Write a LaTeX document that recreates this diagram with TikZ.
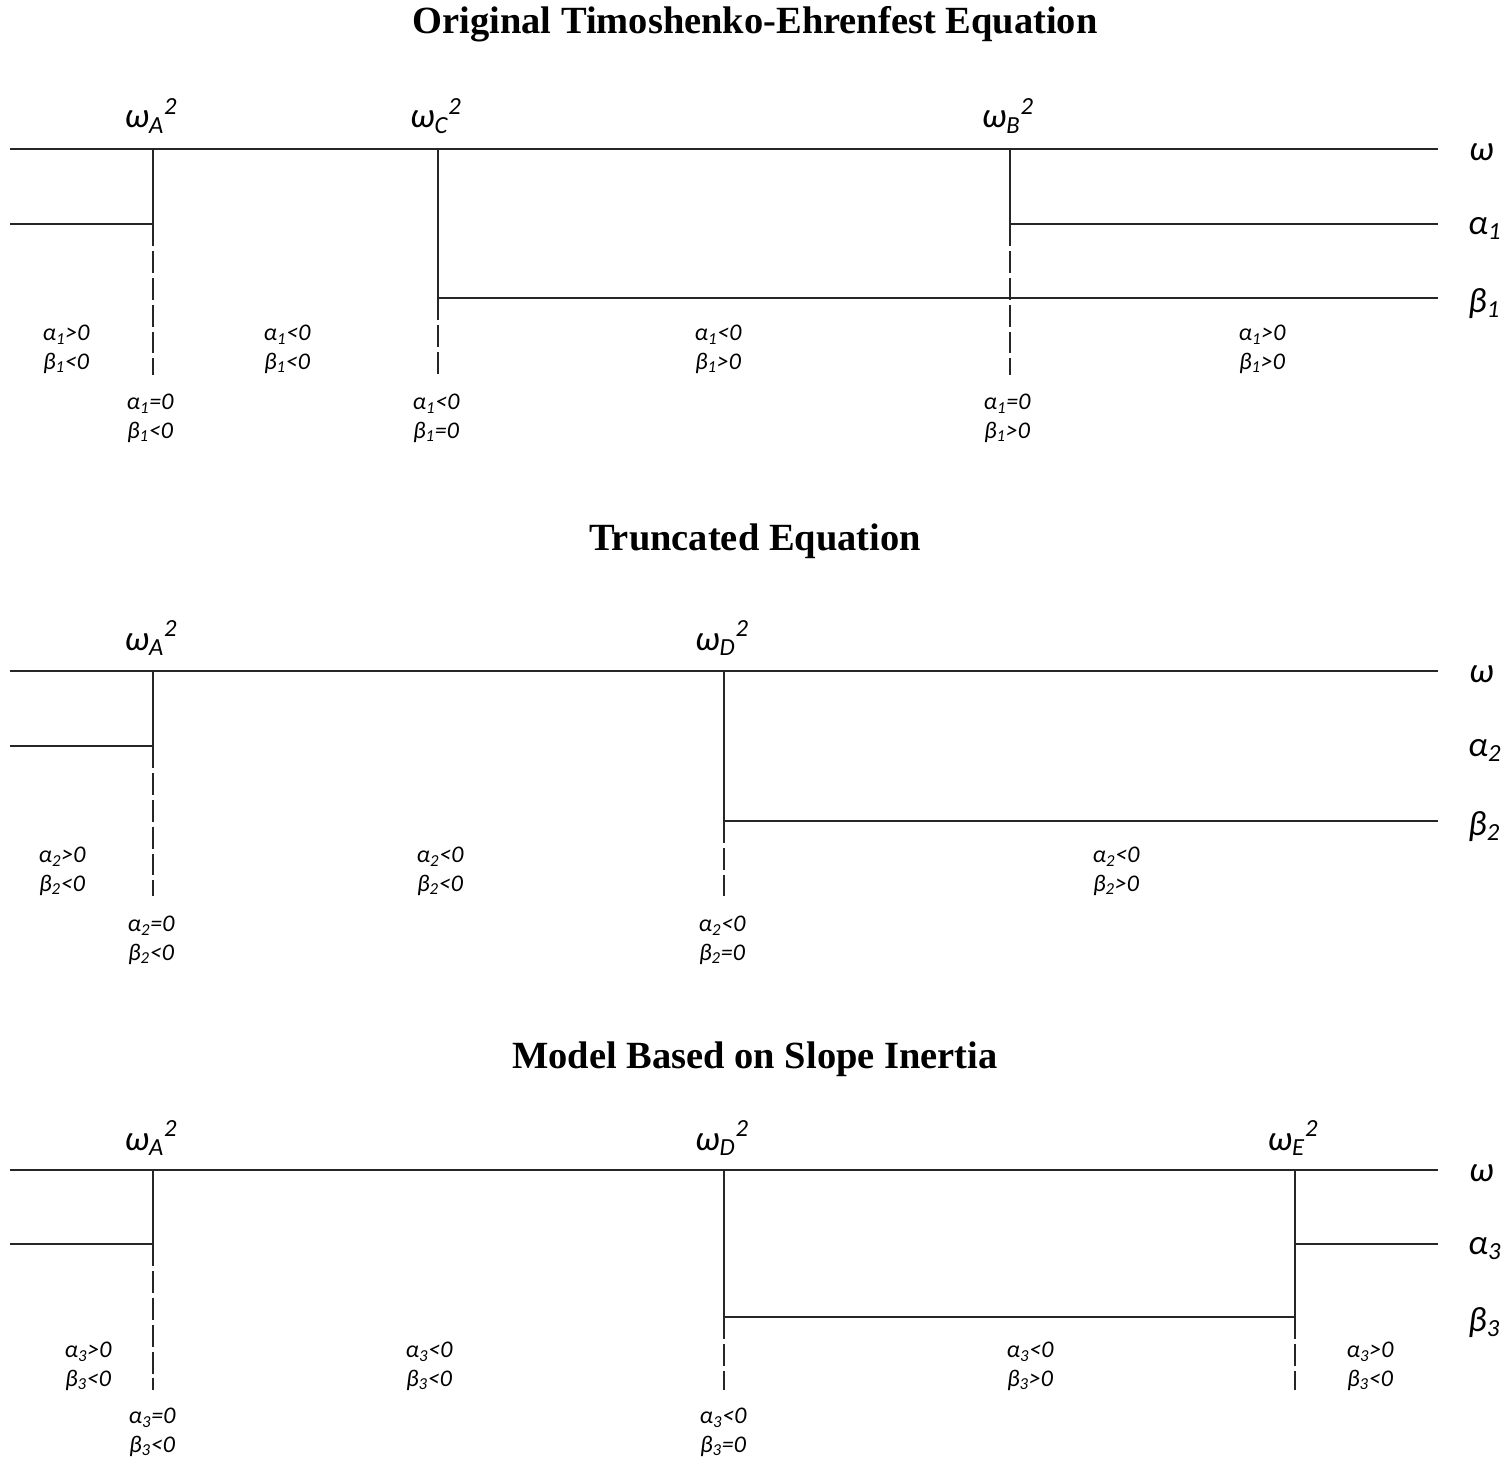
\documentclass[tikz,border=0pt]{standalone}
\usepackage{fontspec}
\setmainfont{Liberation Serif}
\newfontfamily\calfont{Carlito}
\usetikzlibrary{positioning}

\begin{document}
\begin{tikzpicture}[x=0.02cm, y=-0.02cm,
    line/.style={line width=1.1pt, black!85},
    dashline/.style={line, dash pattern=on 12.5pt off 2.8pt},
    heading/.style={anchor=base, font=\bfseries\fontsize{21.9}{26}\selectfont},
    axislbl/.style={anchor=base west, font=\calfont\itshape\fontsize{20}{24}\selectfont},
    freqlbl/.style={anchor=base, font=\calfont\itshape\fontsize{20}{24}\selectfont},
    signlbl/.style={align=center, font=\calfont\itshape\fontsize{13.6}{16.4}\selectfont}]

        \useasboundingbox (0,0) rectangle (1511,1470);

        % --- original equation
        \node[heading] (title1) at (755,34) {Original Timoshenko-Ehrenfest Equation};

        \draw[line] (10,149) -- (1438,149);
        \draw[line] (10,224) -- (153,224);
        \draw[line] (1010,224) -- (1438,224);
        \draw[line] (438,298) -- (1438,298);
        \draw[line] (153,149) -- (153,224);
        \draw[line] (438,149) -- (438,298);
        \draw[line] (1010,149) -- (1010,224);
        \draw[dashline] (153,224) -- (153,375);
        \draw[dashline] (438,298) -- (438,375);
        \draw[dashline] (1010,224) -- (1010,375);

        \node[axislbl] (w1) at (1463,160) {ω};
        \node[axislbl] (a1) at (1462,234) {α\textsubscript{1}};
        \node[axislbl] (b1) at (1462,312) {β\textsubscript{1}};

        \node[freqlbl] (wA1) at (151,128) {ω\textsubscript{A}\textsuperscript{2}};
        \node[freqlbl] (wC1) at (436,128) {ω\textsubscript{C}\textsuperscript{2}};
        \node[freqlbl] (wB1) at (1008,128) {ω\textsubscript{B}\textsuperscript{2}};

        \node[signlbl] (r11) at (66,349) {α\textsubscript{1}>0\\β\textsubscript{1}<0};
        \node[signlbl] (r12) at (287,349) {α\textsubscript{1}<0\\β\textsubscript{1}<0};
        \node[signlbl] (r13) at (718,349) {α\textsubscript{1}<0\\β\textsubscript{1}>0};
        \node[signlbl] (r14) at (1262,349) {α\textsubscript{1}>0\\β\textsubscript{1}>0};
        \node[signlbl] (p11) at (150,418) {α\textsubscript{1}=0\\β\textsubscript{1}<0};
        \node[signlbl] (p12) at (436,418) {α\textsubscript{1}<0\\β\textsubscript{1}=0};
        \node[signlbl] (p13) at (1007,418) {α\textsubscript{1}=0\\β\textsubscript{1}>0};

        % --- truncated
        \node[heading] (title2) at (755,550) {Truncated Equation};

        \draw[line] (10,671) -- (1438,671);
        \draw[line] (10,746) -- (153,746);
        \draw[line] (724,821) -- (1438,821);
        \draw[line] (153,671) -- (153,746);
        \draw[line] (724,671) -- (724,821);
        \draw[dashline] (153,746) -- (153,896);
        \draw[dashline] (724,821) -- (724,896);

        \node[axislbl] (w2) at (1463,682) {ω};
        \node[axislbl] (a2) at (1462,756) {α\textsubscript{2}};
        \node[axislbl] (b2) at (1462,835) {β\textsubscript{2}};

        \node[freqlbl] (wA2) at (151,650) {ω\textsubscript{A}\textsuperscript{2}};
        \node[freqlbl] (wD2) at (722,650) {ω\textsubscript{D}\textsuperscript{2}};

        \node[signlbl] (r21) at (62,871) {α\textsubscript{2}>0\\β\textsubscript{2}<0};
        \node[signlbl] (r22) at (440,871) {α\textsubscript{2}<0\\β\textsubscript{2}<0};
        \node[signlbl] (r23) at (1116,871) {α\textsubscript{2}<0\\β\textsubscript{2}>0};
        \node[signlbl] (p21) at (151,940) {α\textsubscript{2}=0\\β\textsubscript{2}<0};
        \node[signlbl] (p22) at (722,940) {α\textsubscript{2}<0\\β\textsubscript{2}=0};

        % --- slope inertia
        \node[heading] (title3) at (755,1068) {Model Based on Slope Inertia};

        \draw[line] (10,1170) -- (1438,1170);
        \draw[line] (10,1244) -- (153,1244);
        \draw[line] (1295,1244) -- (1438,1244);
        \draw[line] (724,1317) -- (1295,1317);
        \draw[line] (153,1170) -- (153,1244);
        \draw[line] (724,1170) -- (724,1317);
        \draw[line] (1295,1170) -- (1295,1317);
        \draw[dashline] (153,1244) -- (153,1390);
        \draw[dashline] (724,1317) -- (724,1390);
        \draw[dashline] (1295,1317) -- (1295,1390);

        \node[axislbl] (w3) at (1463,1181) {ω};
        \node[axislbl] (a3) at (1462,1254) {α\textsubscript{3}};
        \node[axislbl] (b3) at (1462,1331) {β\textsubscript{3}};

        \node[freqlbl] (wA3) at (151,1150) {ω\textsubscript{A}\textsuperscript{2}};
        \node[freqlbl] (wD3) at (722,1150) {ω\textsubscript{D}\textsuperscript{2}};
        \node[freqlbl] (wE3) at (1293,1150) {ω\textsubscript{E}\textsuperscript{2}};

        \node[signlbl] (r31) at (88,1366) {α\textsubscript{3}>0\\β\textsubscript{3}<0};
        \node[signlbl] (r32) at (429,1366) {α\textsubscript{3}<0\\β\textsubscript{3}<0};
        \node[signlbl] (r33) at (1030,1366) {α\textsubscript{3}<0\\β\textsubscript{3}>0};
        \node[signlbl] (r34) at (1370,1366) {α\textsubscript{3}>0\\β\textsubscript{3}<0};
        \node[signlbl] (p31) at (152,1432) {α\textsubscript{3}=0\\β\textsubscript{3}<0};
        \node[signlbl] (p32) at (723,1432) {α\textsubscript{3}<0\\β\textsubscript{3}=0};
\end{tikzpicture}
\end{document}
